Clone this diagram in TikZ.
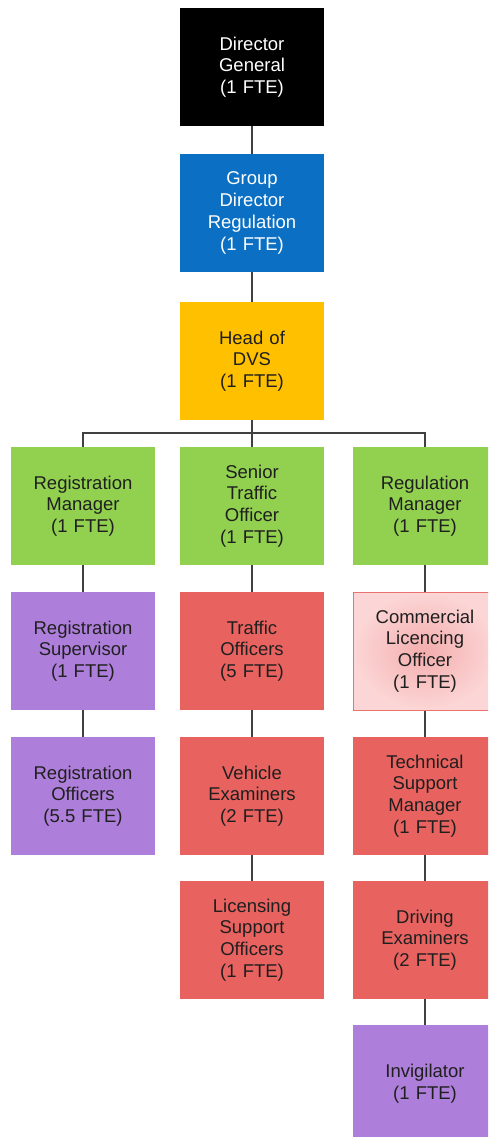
\documentclass[tikz,border=0pt]{standalone}
\usepackage{fontspec}
\setmainfont{Liberation Sans}
\usepackage{tikz}
\usetikzlibrary{positioning, calc}
\usepackage{xcolor}
\definecolor{dgblack}{HTML}{000000}
\definecolor{gdblue}{HTML}{0B70C4}
\definecolor{hodyellow}{HTML}{FFC000}
\definecolor{mgrgreen}{HTML}{92D050}
\definecolor{regpurple}{HTML}{AE7FDA}
\definecolor{offred}{HTML}{E8625F}
\definecolor{clopink}{HTML}{F4ADAD}
\definecolor{clolight}{HTML}{FCD6D6}
\definecolor{linegray}{HTML}{404040}

\begin{document}
\begin{tikzpicture}[
    x=1pt, y=-1pt,
    box/.style={minimum width=144pt, minimum height=118pt, inner sep=0pt,
        text width=138pt, align=center, text=black!88,
        font=\fontsize{18.5}{21.7}\selectfont},
    ln/.style={draw=linegray, line width=1.8pt}]
\useasboundingbox (0,0) rectangle (488,1137);
\clip (0,0) rectangle (488,1137);
% top of the chart
\node[box, fill=dgblack, text=white]   (dg)  at (252,67)  {Director\\General\\(1 FTE)};
\node[box, fill=gdblue, text=white]    (gdr) at (252,213) {Group\\Director\\Regulation\\(1 FTE)};
\node[box, fill=hodyellow]             (hod) at (252,361) {Head of\\DVS\\(1 FTE)};
% managers
\node[box, fill=mgrgreen] (rm)  at (83,506)  {Registration\\Manager\\(1 FTE)};
\node[box, fill=mgrgreen] (sto) at (252,506) {Senior\\Traffic\\Officer\\(1 FTE)};
\node[box, fill=mgrgreen] (rgm) at (425,506) {Regulation\\Manager\\(1 FTE)};
% registration column
\node[box, fill=regpurple] (rs) at (83,651) {Registration\\Supervisor\\(1 FTE)};
\node[box, fill=regpurple] (ro) at (83,796) {Registration\\Officers\\(5.5 FTE)};
% traffic column
\node[box, fill=offred] (to)  at (252,651) {Traffic\\Officers\\(5 FTE)};
\node[box, fill=offred] (ve)  at (252,796) {Vehicle\\Examiners\\(2 FTE)};
\node[box, fill=offred] (lso) at (252,940) {Licensing\\Support\\Officers\\(1 FTE)};
% regulation column
\node[box, draw=offred!90, line width=1pt, inner color=clopink, outer color=clolight]
    (clo) at (425,651) {Commercial\\Licencing\\Officer\\(1 FTE)};
\node[box, fill=offred]    (tsm) at (425,796)  {Technical\\Support\\Manager\\(1 FTE)};
\node[box, fill=offred]    (de)  at (425,940)  {Driving\\Examiners\\(2 FTE)};
\node[box, fill=regpurple] (inv) at (425,1084) {Invigilator\\(1 FTE)};
% connectors
\coordinate (bus) at (252,433);
\draw[ln] (dg) -- (gdr);
\draw[ln] (gdr) -- (hod);
\draw[ln] (hod) -- (bus);
\draw[ln] (rm) |- (bus) -| (rgm);
\draw[ln] (bus) -- (sto);
\draw[ln] (rm) -- (rs);
\draw[ln] (rs) -- (ro);
\draw[ln] (sto) -- (to);
\draw[ln] (to) -- (ve);
\draw[ln] (ve) -- (lso);
\draw[ln] (rgm) -- (clo);
\draw[ln] (clo) -- (tsm);
\draw[ln] (tsm) -- (de);
\draw[ln] (de) -- (inv);
\end{tikzpicture}
\end{document}
